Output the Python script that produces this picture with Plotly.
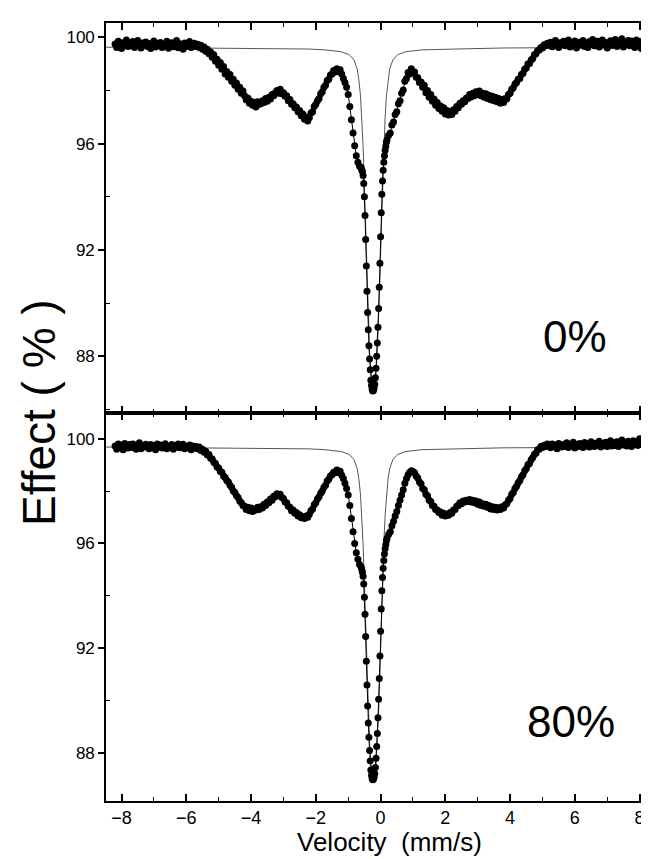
import numpy as np
import plotly.graph_objects as go

# ---------------- velocity grid of the data channels (mm/s) ----------------
vel_left = np.linspace(-8.20, -0.65, 152)
vel_center = np.linspace(-0.60, 0.18, 40)
vel_right = np.linspace(0.20, 8.25, 162)

# ---------------- 0 % sample : measured effect (%) ----------------
eff0_left = [
    99.75, 99.62, 99.85, 99.70, 99.58, 99.80, 99.72, 99.90, 99.66, 99.78,
    99.70, 99.84, 99.62, 99.74, 99.88, 99.68, 99.60, 99.79, 99.71, 99.83,
    99.66, 99.77, 99.58, 99.72, 99.86, 99.64, 99.75, 99.69, 99.81, 99.62,
    99.74, 99.67, 99.85, 99.59, 99.73, 99.80, 99.65, 99.70, 99.88, 99.61,
    99.76, 99.68, 99.55, 99.79, 99.66, 99.73, 99.84, 99.62, 99.70, 99.78,
    99.66, 99.74, 99.62, 99.70, 99.55, 99.64, 99.48, 99.55, 99.38, 99.45,
    99.25, 99.35, 99.10, 99.18, 98.95, 99.05, 98.80, 98.90, 98.62, 98.72,
    98.50, 98.60, 98.35, 98.42, 98.20, 98.28, 98.05, 98.12, 97.90, 97.98,
    97.80, 97.65, 97.72, 97.52, 97.60, 97.45, 97.55, 97.38, 97.58, 97.48,
    97.50, 97.62, 97.55, 97.70, 97.60, 97.75, 97.68, 97.85, 97.80, 97.92,
    98.00, 97.90, 98.05, 97.88, 97.92, 97.78, 97.80, 97.62, 97.66, 97.48,
    97.50, 97.35, 97.38, 97.20, 97.25, 97.05, 97.12, 96.92, 97.00, 96.85,
    96.98, 97.15, 97.20, 97.40, 97.48, 97.62, 97.70, 97.88, 97.95, 98.12,
    98.20, 98.38, 98.42, 98.58, 98.62, 98.75, 98.70, 98.82, 98.72, 98.78,
    98.62, 98.45, 98.30, 98.12, 97.85, 97.40, 96.90, 96.40, 95.92, 95.55,
    95.30, 95.15,
]
eff0_center = [
    95.10, 95.00, 94.95, 94.80, 94.50, 94.00, 93.30, 92.40, 91.40, 90.45,
    89.65, 89.00, 88.40, 87.90, 87.50, 87.10, 86.90, 86.75, 86.70, 86.72,
    86.80, 86.95, 87.20, 87.55, 88.00, 88.50, 89.10, 89.80, 90.60, 91.50,
    92.50, 93.40, 94.10, 94.60, 95.00, 95.30, 95.55, 95.75, 95.90, 96.05,
]
eff0_right = [
    96.15, 96.32, 96.40, 96.70, 96.82, 97.10, 97.20, 97.50, 97.62, 97.90,
    98.02, 98.35, 98.45, 98.68, 98.62, 98.82, 98.68, 98.70, 98.50, 98.48,
    98.30, 98.32, 98.12, 98.20, 97.92, 98.00, 97.75, 97.85, 97.60, 97.68,
    97.45, 97.55, 97.32, 97.42, 97.22, 97.35, 97.12, 97.25, 97.08, 97.20,
    97.10, 97.28, 97.22, 97.40, 97.35, 97.52, 97.48, 97.62, 97.58, 97.72,
    97.70, 97.85, 97.76, 97.90, 97.80, 97.95, 97.85, 97.98, 97.80, 97.90,
    97.75, 97.88, 97.70, 97.82, 97.65, 97.78, 97.62, 97.75, 97.58, 97.70,
    97.52, 97.65, 97.55, 97.70, 97.68, 97.85, 97.90, 98.05, 98.10, 98.25,
    98.30, 98.42, 98.45, 98.60, 98.65, 98.80, 98.85, 99.00, 99.02, 99.15,
    99.20, 99.35, 99.38, 99.50, 99.52, 99.62, 99.60, 99.72, 99.68, 99.78,
    99.70, 99.82, 99.65, 99.78, 99.88, 99.70, 99.62, 99.80, 99.74, 99.85,
    99.68, 99.76, 99.90, 99.64, 99.78, 99.72, 99.86, 99.60, 99.75, 99.82,
    99.70, 99.88, 99.66, 99.79, 99.62, 99.84, 99.74, 99.92, 99.68, 99.77,
    99.85, 99.64, 99.76, 99.90, 99.70, 99.81, 99.60, 99.78, 99.87, 99.69,
    99.75, 99.92, 99.66, 99.80, 99.72, 99.95, 99.64, 99.83, 99.74, 99.88,
    99.68, 99.86, 99.76, 99.62, 99.90, 99.72, 99.84, 99.58, 99.80, 99.70,
    99.88, 99.66,
]

# ---------------- 80 % sample : measured effect (%) ----------------
eff80_left = [
    99.72, 99.60, 99.80, 99.68, 99.76, 99.58, 99.82, 99.70, 99.64, 99.78,
    99.66, 99.80, 99.70, 99.60, 99.75, 99.84, 99.62, 99.72, 99.68, 99.79,
    99.70, 99.62, 99.78, 99.66, 99.74, 99.58, 99.80, 99.69, 99.76, 99.64,
    99.73, 99.81, 99.62, 99.70, 99.66, 99.78, 99.60, 99.74, 99.68, 99.80,
    99.65, 99.72, 99.79, 99.62, 99.70, 99.66, 99.76, 99.58, 99.72, 99.64,
    99.70, 99.62, 99.68, 99.55, 99.60, 99.48, 99.52, 99.38, 99.40, 99.25,
    99.22, 99.10, 99.05, 98.92, 98.88, 98.75, 98.72, 98.58, 98.52, 98.40,
    98.35, 98.22, 98.15, 98.00, 97.95, 97.82, 97.75, 97.62, 97.55, 97.45,
    97.42, 97.30, 97.38, 97.25, 97.35, 97.22, 97.32, 97.28, 97.38, 97.30,
    97.40, 97.35, 97.50, 97.45, 97.58, 97.55, 97.70, 97.65, 97.80, 97.78,
    97.90, 97.82, 97.88, 97.75, 97.72, 97.58, 97.55, 97.42, 97.38, 97.25,
    97.28, 97.15, 97.18, 97.05, 97.10, 96.98, 97.02, 96.95, 97.05, 97.00,
    97.12, 97.25, 97.32, 97.48, 97.55, 97.70, 97.78, 97.92, 98.00, 98.15,
    98.22, 98.38, 98.45, 98.58, 98.62, 98.72, 98.70, 98.80, 98.72, 98.76,
    98.60, 98.48, 98.30, 98.10, 97.85, 97.45, 96.95, 96.45, 96.00, 95.65,
    95.40, 95.20,
]
eff80_center = [
    95.10, 95.00, 94.90, 94.75, 94.45, 93.95, 93.30, 92.45, 91.50, 90.60,
    89.80, 89.15, 88.60, 88.10, 87.70, 87.35, 87.15, 87.02, 86.98, 87.00,
    87.08, 87.22, 87.45, 87.80, 88.25, 88.75, 89.35, 90.05, 90.85, 91.70,
    92.65, 93.50, 94.20, 94.70, 95.05, 95.35, 95.60, 95.80, 95.95, 96.10,
]
eff80_right = [
    96.20, 96.35, 96.45, 96.68, 96.85, 97.05, 97.22, 97.45, 97.65, 97.85,
    98.05, 98.30, 98.48, 98.62, 98.72, 98.78, 98.75, 98.70, 98.58, 98.50,
    98.35, 98.28, 98.10, 98.05, 97.88, 97.82, 97.65, 97.60, 97.45, 97.42,
    97.30, 97.28, 97.18, 97.20, 97.08, 97.15, 97.05, 97.12, 97.08, 97.18,
    97.15, 97.28, 97.30, 97.42, 97.45, 97.55, 97.52, 97.62, 97.58, 97.65,
    97.60, 97.68, 97.58, 97.65, 97.55, 97.62, 97.50, 97.58, 97.45, 97.52,
    97.42, 97.50, 97.38, 97.45, 97.32, 97.40, 97.30, 97.38, 97.28, 97.36,
    97.30, 97.40, 97.35, 97.48, 97.52, 97.65, 97.72, 97.88, 97.95, 98.10,
    98.18, 98.32, 98.40, 98.55, 98.62, 98.78, 98.85, 99.00, 99.05, 99.20,
    99.28, 99.40, 99.45, 99.58, 99.60, 99.70, 99.66, 99.75, 99.70, 99.80,
    99.72, 99.65, 99.80, 99.70, 99.76, 99.62, 99.82, 99.74, 99.68, 99.78,
    99.70, 99.84, 99.66, 99.76, 99.72, 99.86, 99.64, 99.78, 99.70, 99.82,
    99.74, 99.66, 99.85, 99.72, 99.80, 99.68, 99.88, 99.75, 99.70, 99.83,
    99.76, 99.90, 99.68, 99.82, 99.74, 99.86, 99.70, 99.80, 99.92, 99.72,
    99.84, 99.74, 99.88, 99.70, 99.82, 99.95, 99.76, 99.86, 99.72, 99.90,
    99.80, 99.70, 99.92, 99.78, 99.86, 99.74, 100.00, 99.82, 99.76, 99.94,
    99.80, 99.88,
]

# ---------------- fitted singlet component (thin line) ----------------
fit_vel = [-8.5, -6.0, -4.2, -3.0, -2.2, -1.72, -1.22, -0.97, -0.82, -0.72,
           -0.67, -0.62, -0.58, -0.54, -0.50, -0.46, -0.42, -0.38, -0.34, -0.30,
           -0.26, -0.22, -0.18, -0.14, -0.10, -0.06, -0.02, 0.02, 0.06, 0.10,
           0.14, 0.18, 0.23, 0.28, 0.38, 0.53, 0.78, 1.28, 2.28, 3.78, 8.3]
fit0 = [99.63, 99.61, 99.60, 99.58, 99.56, 99.53, 99.46, 99.35, 99.15, 98.80,
        98.40, 97.80, 97.00, 95.90, 94.40, 92.70, 90.90, 89.40, 88.20, 87.40,
        86.95, 86.75, 86.95, 87.40, 88.20, 89.40, 90.90, 92.70, 94.40, 95.90,
        97.00, 97.80, 98.40, 98.80, 99.15, 99.35, 99.46, 99.53, 99.56, 99.60, 99.63]
fit80 = [99.68, 99.66, 99.65, 99.63, 99.61, 99.58, 99.51, 99.40, 99.20, 98.85,
         98.45, 97.86, 97.07, 95.98, 94.50, 92.82, 91.05, 89.57, 88.39, 87.60,
         87.16, 86.98, 87.16, 87.60, 88.39, 89.57, 91.05, 92.82, 94.50, 95.98,
         97.07, 97.86, 98.45, 98.85, 99.20, 99.40, 99.51, 99.58, 99.61, 99.65, 99.68]

panel_labels = ["0%", "80%"]
x_ticks = [-8, -6, -4, -2, 0, 2, 4, 6, 8]
y_ticks = [88, 92, 96, 100]
y_minor = [86, 90, 94, 98]

velocity = np.concatenate([vel_left, vel_center, vel_right])
eff0 = np.array(eff0_left + eff0_center + eff0_right)
eff80 = np.array(eff80_left + eff80_center + eff80_right)
assert len(velocity) == len(eff0) == len(eff80), (len(velocity), len(eff0), len(eff80))
assert len(fit_vel) == len(fit0) == len(fit80)

FONT = "Liberation Sans, Arial, Helvetica, sans-serif"
fig = go.Figure()

# top panel (0 %) -> x2/y2 ; bottom panel (80 %) -> x/y
for xa, ya, fit, eff in [("x2", "y2", fit0, eff0), ("x", "y", fit80, eff80)]:
    fig.add_trace(go.Scatter(x=fit_vel, y=fit, xaxis=xa, yaxis=ya, mode="lines",
                             line=dict(color="#555555", width=1), showlegend=False,
                             hoverinfo="skip"))
    fig.add_trace(go.Scatter(x=velocity, y=eff, xaxis=xa, yaxis=ya, mode="lines+markers",
                             line=dict(color="black", width=1),
                             marker=dict(color="black", size=7), showlegend=False))

split = 388 / 778

xcommon = dict(range=[-8.48, 8.29], tickvals=x_ticks, ticks="inside", ticklen=7,
               tickwidth=1.5, tickcolor="black", showline=True, linecolor="black",
               linewidth=1.6, mirror="allticks", showgrid=False, zeroline=False,
               minor=dict(dtick=1, tick0=0, ticks="inside", ticklen=4,
                          tickwidth=1.2, tickcolor="black"),
               tickfont=dict(family=FONT, size=18, color="black"))
ycommon = dict(tickvals=y_ticks, ticks="outside", ticklen=6, tickwidth=1.5,
               tickcolor="black", showline=True, linecolor="black", linewidth=1.6,
               mirror="allticks", showgrid=False, zeroline=False,
               minor=dict(tickvals=y_minor, ticks="inside", ticklen=4,
                          tickwidth=1.2, tickcolor="black"),
               tickfont=dict(family=FONT, size=17, color="black"))

fig.update_layout(
    width=649, height=859,
    margin=dict(l=98, r=0, t=15, b=66),
    paper_bgcolor="white", plot_bgcolor="white",
    xaxis=dict(domain=[0, 1], anchor="y", **xcommon),
    xaxis2=dict(domain=[0, 1], anchor="y2", matches="x", showticklabels=False,
                **{k: v for k, v in xcommon.items() if k != "tickfont"}),
    yaxis=dict(domain=[0, split], range=[86.17, 100.98], **ycommon),
    yaxis2=dict(domain=[split, 1], range=[85.87, 100.54], **ycommon),
    annotations=[
        dict(text="Velocity\u00a0 (mm/s)", xref="paper", yref="paper",
             x=(386 - 98) / 551, y=-(834 - 793) / 778, xanchor="center", yanchor="middle",
             showarrow=False, font=dict(family=FONT, size=26, color="black")),
        dict(text="Effect ( % )", xref="paper", yref="paper", x=(30 - 98) / 551,
             y=0.5, xanchor="center", yanchor="middle", textangle=-90,
             showarrow=False, font=dict(family=FONT, size=46, color="black")),
        dict(text=panel_labels[0], xref="paper", yref="paper",
             x=(574 - 98) / 551, y=(793 - 328) / 778, xanchor="center",
             yanchor="middle", showarrow=False,
             font=dict(family=FONT, size=44, color="black")),
        dict(text=panel_labels[1], xref="paper", yref="paper",
             x=(570 - 98) / 551, y=(793 - 713) / 778, xanchor="center",
             yanchor="middle", showarrow=False,
             font=dict(family=FONT, size=44, color="black")),
    ],
)

fig.write_html("out.html")
